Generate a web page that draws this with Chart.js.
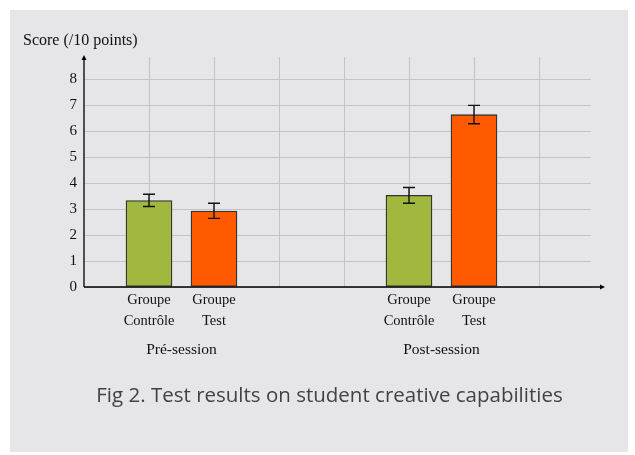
<!DOCTYPE html>
<html>
<head>
<meta charset="utf-8">
<script src="https://cdn.jsdelivr.net/npm/chart.js@4.4.1/dist/chart.umd.min.js"></script>
<style>
  html, body { margin: 0; padding: 0; background: #fff; }
  #panel { position: absolute; left: 10px; top: 10px; width: 618px; height: 442px; background: #e6e6e8; }
  #wrap { position: absolute; left: 0; top: 0; width: 635px; height: 455px; }
  #caption {
    position: absolute; left: 12px; top: 380px; width: 635px; text-align: center;
    font-family: "Open Sans", sans-serif; font-size: 20.5px; font-weight: 500; color: #424244;
  }
</style>
</head>
<body>
<div id="panel"></div>
<div id="wrap"><canvas id="chart" width="635" height="455"></canvas></div>
<div id="caption">Fig 2. Test results on student creative capabilities</div>
<script>
// positions on the x axis (pgfplots-like numeric positions)
const controlX = [1, 5];
const testX = [2, 6];
// mean scores
const controlScore = [3.33, 3.53];
const testScore = [2.92, 6.63];
// error bar bounds
const controlLow = [3.10, 3.22];
const controlHigh = [3.57, 3.83];
const testLow = [2.64, 6.28];
const testHigh = [3.22, 6.99];
// tick labels under bars
const tickLabels = {
  1: ["Groupe", "Contrôle"],
  2: ["Groupe", "Test"],
  5: ["Groupe", "Contrôle"],
  6: ["Groupe", "Test"],
};
const sessions = [
  { x: 1.5, label: "Pré-session" },
  { x: 5.5, label: "Post-session" },
];
const yTitle = "Score (/10 points)";

const serif = '"Liberation Serif", "DejaVu Serif", serif';

const toPoints = (xs, ys) => xs.map((x, i) => ({ x, y: ys[i] }));

const errorBars = {
  id: "errorBars",
  afterDatasetsDraw(chart) {
    const { ctx, scales: { x, y } } = chart;
    const sets = [
      [controlX, controlLow, controlHigh],
      [testX, testLow, testHigh],
    ];
    ctx.save();
    ctx.strokeStyle = "#111";
    ctx.lineWidth = 1.4;
    for (const [xs, lo, hi] of sets) {
      xs.forEach((v, i) => {
        const px = x.getPixelForValue(v);
        const y1 = y.getPixelForValue(lo[i]);
        const y2 = y.getPixelForValue(hi[i]);
        ctx.beginPath();
        ctx.moveTo(px, y1); ctx.lineTo(px, y2);
        ctx.moveTo(px - 6, y1); ctx.lineTo(px + 6, y1);
        ctx.moveTo(px - 6, y2); ctx.lineTo(px + 6, y2);
        ctx.stroke();
      });
    }
    ctx.restore();
  },
};

const axesAndText = {
  id: "axesAndText",
  afterDraw(chart) {
    const { ctx, chartArea: a } = chart;
    const x = chart.scales.x;
    ctx.save();
    ctx.strokeStyle = "#000";
    ctx.fillStyle = "#000";
    ctx.lineWidth = 1.3;
    // y axis with arrow
    ctx.beginPath();
    ctx.moveTo(a.left, a.bottom);
    ctx.lineTo(a.left, a.top);
    ctx.stroke();
    ctx.beginPath();
    ctx.moveTo(a.left, a.top - 2);
    ctx.lineTo(a.left - 2.5, a.top + 3);
    ctx.lineTo(a.left + 2.5, a.top + 3);
    ctx.closePath();
    ctx.fill();
    // x axis with arrow
    ctx.beginPath();
    ctx.moveTo(a.left, a.bottom);
    ctx.lineTo(a.right + 11, a.bottom);
    ctx.stroke();
    ctx.beginPath();
    ctx.moveTo(a.right + 14, a.bottom);
    ctx.lineTo(a.right + 9, a.bottom - 2.5);
    ctx.lineTo(a.right + 9, a.bottom + 2.5);
    ctx.closePath();
    ctx.fill();

    // titles
    ctx.fillStyle = "#111";
    ctx.font = "16px " + serif;
    ctx.textAlign = "left";
    ctx.textBaseline = "middle";
    ctx.fillText(yTitle, a.left - 61, a.top - 16);
    ctx.font = "15.5px " + serif;
    ctx.textAlign = "center";
    for (const s of sessions) {
      ctx.fillText(s.label, x.getPixelForValue(s.x), a.bottom + 63);
    }
    ctx.restore();
  },
};

new Chart(document.getElementById("chart"), {
  type: "bar",
  data: {
    datasets: [
      {
        label: "Groupe Contrôle",
        data: toPoints(controlX, controlScore),
        backgroundColor: "#9fb83d",
        borderColor: "#333",
        borderWidth: 1.3,
        borderSkipped: false,
        barThickness: 46,
        grouped: false,
      },
      {
        label: "Groupe Test",
        data: toPoints(testX, testScore),
        backgroundColor: "#ff5a00",
        borderColor: "#333",
        borderWidth: 1.3,
        borderSkipped: false,
        barThickness: 46,
        grouped: false,
      },
    ],
  },
  options: {
    responsive: false,
    animation: false,
    events: [],
    layout: { padding: { left: 44, top: 57, right: 44, bottom: 108 } },
    plugins: { legend: { display: false }, tooltip: { enabled: false } },
    scales: {
      x: {
        type: "linear",
        min: 0,
        max: 7.8,
        offset: false,
        afterBuildTicks: (s) => {
          s.ticks = [1, 2, 3, 4, 5, 6, 7].map((v) => ({ value: v }));
        },
        afterFit: (s) => { s.height = 60; },
        grid: { color: "#c4c4c6", lineWidth: 1, drawTicks: false, offset: false },
        border: { display: false },
        ticks: {
          autoSkip: false,
          maxRotation: 0,
          padding: 3,
          color: "#111",
          font: { family: serif, size: 14.5, lineHeight: 1.45 },
          callback: (v) => tickLabels[v] || "",
        },
      },
      y: {
        min: 0,
        max: 8.85,
        afterBuildTicks: (s) => {
          s.ticks = [0, 1, 2, 3, 4, 5, 6, 7, 8].map((v) => ({ value: v }));
        },
        afterFit: (s) => { s.width = 40; },
        grid: { color: "#c4c4c6", lineWidth: 1, drawTicks: false },
        border: { display: false },
        ticks: {
          padding: 7,
          color: "#111",
          font: { family: serif, size: 15 },
        },
      },
    },
  },
  plugins: [errorBars, axesAndText],
});
</script>
</body>
</html>
